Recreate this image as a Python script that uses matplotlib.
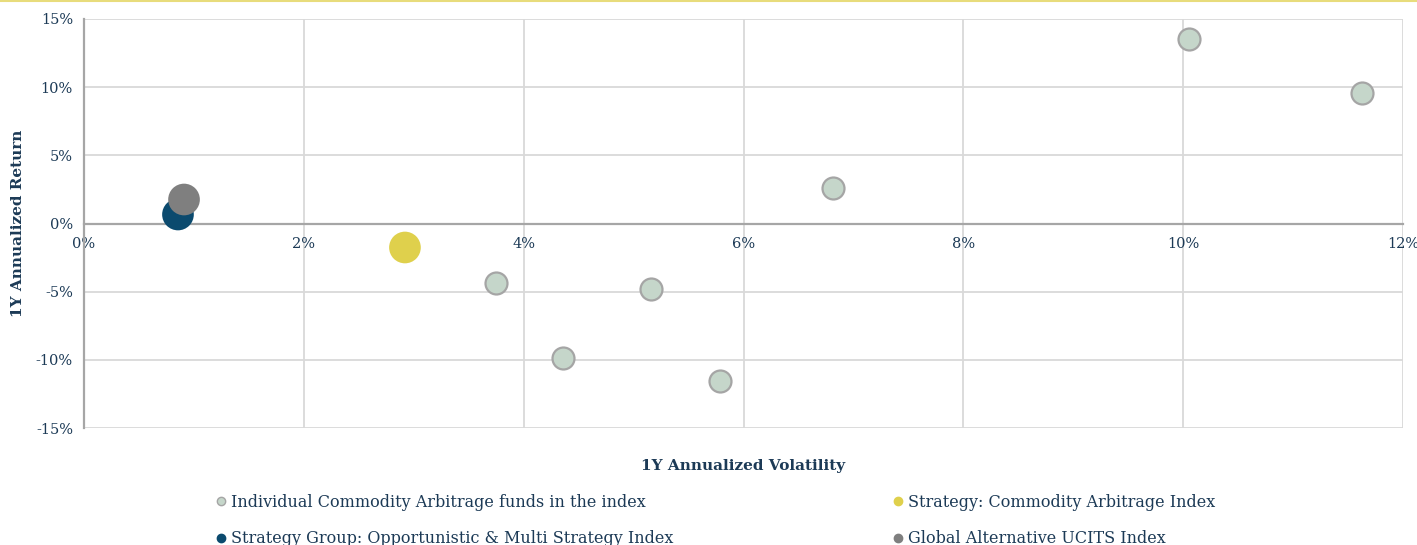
import matplotlib
matplotlib.use("Agg")
import matplotlib.pyplot as plt
from matplotlib.lines import Line2D
from matplotlib.ticker import FuncFormatter, MultipleLocator

# data (percent)
fund_vol = [3.75, 4.36, 5.16, 5.79, 6.81, 10.05, 11.63]
fund_ret = [-4.33, -9.83, -4.84, -11.52, 2.64, 13.50, 9.54]
group_vol, group_ret = [0.855], [0.66]
global_vol, global_ret = [0.91], [1.76]
strat_vol, strat_ret = [2.92], [-1.76]

labels = [
    "Individual Commodity Arbitrage funds in the index",
    "Strategy Group: Opportunistic & Multi Strategy Index",
    "Strategy: Commodity Arbitrage Index",
    "Global Alternative UCITS Index",
]

TEXT = "#1c3a56"
FUND_FACE = "#c5d6ca"
FUND_EDGE = "#a5a5a5"
BLUE = "#0b4a6e"
GREY = "#7f7f7f"
YELLOW = "#dfd04c"

plt.rcParams["font.family"] = ["DejaVu Serif"]

fig = plt.figure(figsize=(14.17, 5.45), dpi=100)
ax = fig.add_axes([84 / 1417, 1 - 428 / 545, (1403 - 84) / 1417, (428 - 19) / 545])

ax.scatter(fund_vol, fund_ret, s=250, color=FUND_FACE, edgecolor=FUND_EDGE,
           linewidth=1.6, zorder=3)
ax.scatter(strat_vol, strat_ret, s=520, color=YELLOW, edgecolor="none", zorder=3)
ax.scatter(group_vol, group_ret, s=520, color=BLUE, edgecolor="none", zorder=3)
ax.scatter(global_vol, global_ret, s=520, color=GREY, edgecolor="none", zorder=4)

ax.set_xlim(0, 12)
ax.set_ylim(-15, 15)
ax.xaxis.set_major_locator(MultipleLocator(2))
ax.yaxis.set_major_locator(MultipleLocator(5))
pct = FuncFormatter(lambda v, _: f"{v:.0f}%")
ax.xaxis.set_major_formatter(pct)
ax.yaxis.set_major_formatter(pct)

ax.grid(True, color="#d9d9d9", linewidth=1.3, zorder=0)
ax.set_axisbelow(True)
for side in ["top", "right"]:
    ax.spines[side].set_visible(False)
ax.spines["bottom"].set_position(("data", 0))
ax.spines["bottom"].set_color("#a6a6a6")
ax.spines["bottom"].set_linewidth(1.6)
ax.spines["left"].set_color("#a6a6a6")
ax.spines["left"].set_linewidth(1.6)
ax.tick_params(length=0, labelsize=10.5, colors=TEXT, pad=8)
ax.tick_params(axis="x", pad=10)

fig.text(18 / 1417, 1 - 223 / 545, "1Y Annualized Return", rotation=90,
         ha="center", va="center", fontsize=11, fontweight="bold", color=TEXT)
fig.text(743 / 1417, 1 - 466 / 545, "1Y Annualized Volatility",
         ha="center", va="center", fontsize=11, fontweight="bold", color=TEXT)

# top accent line
fig.add_artist(Line2D([0, 1], [0.999, 0.999], color="#e8dc7c", linewidth=1.5))


def handle(face, edge=None):
    return Line2D([], [], linestyle="none", marker="o", markersize=6,
                  markerfacecolor=face, markeredgecolor=edge or face,
                  markeredgewidth=1)


h = [handle(FUND_FACE, FUND_EDGE), handle(BLUE), handle(YELLOW), handle(GREY)]
kw = dict(frameon=False, fontsize=11.5, labelcolor=TEXT, handletextpad=0.1,
          handlelength=1.0, labelspacing=1.2, borderaxespad=0, borderpad=0,
          loc="upper left")
leg1 = fig.legend(h[:2], labels[:2], bbox_to_anchor=(213 / 1417, 1 - 494 / 545), **kw)
leg2 = fig.legend(h[2:], labels[2:], bbox_to_anchor=(890 / 1417, 1 - 494 / 545), **kw)

fig.savefig("out.png", dpi=100)
